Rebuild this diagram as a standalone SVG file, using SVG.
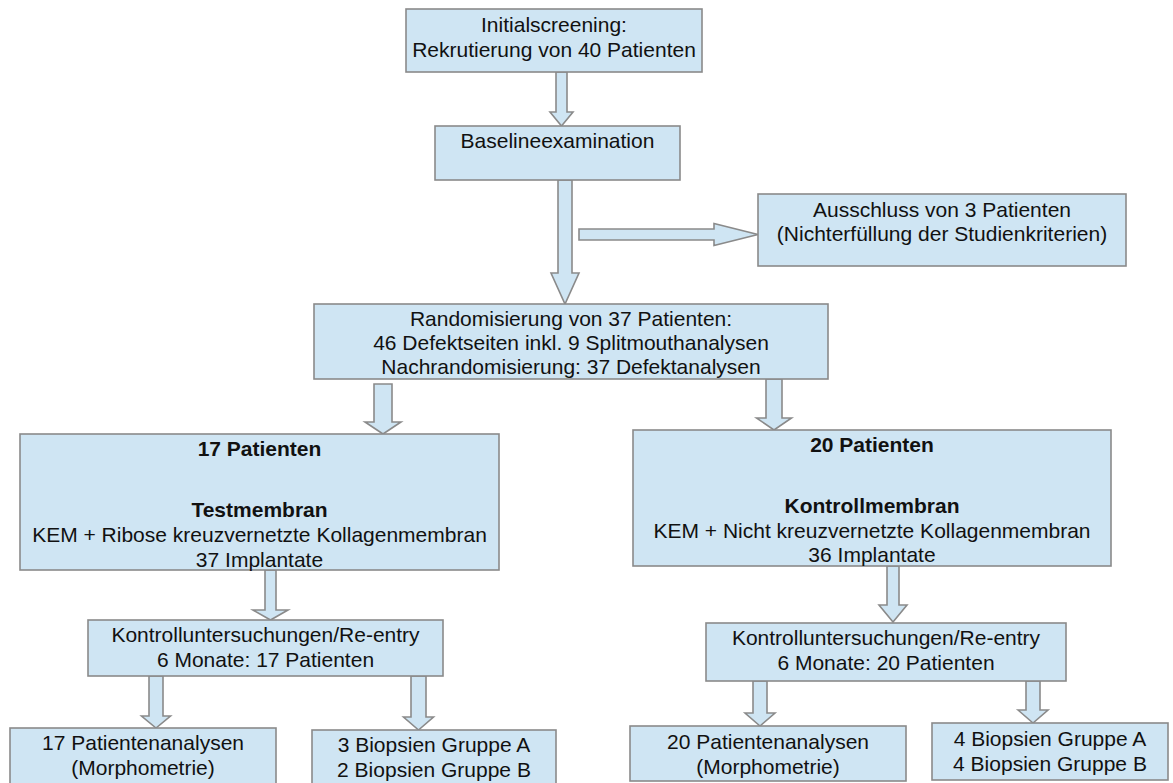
<svg xmlns="http://www.w3.org/2000/svg" width="1173" height="783" viewBox="0 0 1173 783">
<style>
.box{fill:#cfe5f3;stroke:#8a8a8a;stroke-width:1.6}
.arr{fill:#cfe5f3;stroke:#8a8a8a;stroke-width:1.6;stroke-linejoin:miter}
text{font-family:"Liberation Sans",Arial,sans-serif;font-size:21px;fill:#111;text-anchor:middle}
.b{font-weight:bold}
</style>
<rect width="1173" height="783" fill="#ffffff"/>
<g id="connectors">
<polygon class="arr" points="556,72 567,72 567,112 573,112 561.5,126 550,112 556,112"/>
<polygon class="arr" points="558,180 572,180 572,273 579,273 565,304 551,273 558,273"/>
<polygon class="arr" points="579,229 714,229 714,223.5 758,234.5 714,245.5 714,240 579,240"/>
<polygon class="arr" points="374,384 392,384 392,422 401,422 383,434 365,422 374,422"/>
<polygon class="arr" points="766,379 782,379 782,418 791.5,418 774,430 756.5,418 766,418"/>
<polygon class="arr" points="265,570 276,570 276,610 288,610 270.5,620 253,610 265,610"/>
<polygon class="arr" points="887,566 899,566 899,605 907,605 893,622 879,605 887,605"/>
<polygon class="arr" points="149,676 163,676 163,716 170.5,716 156,728 141.5,716 149,716"/>
<polygon class="arr" points="411,676 426,676 426,717 433.5,717 418.5,730 403.5,717 411,717"/>
<polygon class="arr" points="753,681 767,681 767,713 775,713 760,726 745,713 753,713"/>
<polygon class="arr" points="1026,681 1040,681 1040,710 1048,710 1033,723 1018,710 1026,710"/>
</g>
<g id="n1"><rect class="box" x="406" y="9" width="296" height="63"/>
<text x="554" y="32">Initialscreening:</text><text x="554" y="57">Rekrutierung von 40 Patienten</text></g>
<g id="n2"><rect class="box" x="435" y="126" width="245" height="54"/>
<text x="557.5" y="148">Baselineexamination</text></g>
<g id="n3"><rect class="box" x="758" y="194" width="368" height="72"/>
<text x="942" y="217">Ausschluss von 3 Patienten</text><text x="942" y="241">(Nichterfüllung der Studienkriterien)</text></g>
<g id="n4"><rect class="box" x="314" y="304" width="514" height="75"/>
<text x="571" y="326">Randomisierung von 37 Patienten:</text>
<text x="571" y="350">46 Defektseiten inkl. 9 Splitmouthanalysen</text>
<text x="571" y="374">Nachrandomisierung: 37 Defektanalysen</text></g>
<g id="n5"><rect class="box" x="20" y="434" width="479" height="136"/>
<text class="b" x="259.5" y="456">17 Patienten</text>
<text class="b" x="259.5" y="517">Testmembran</text>
<text x="259.5" y="542">KEM + Ribose kreuzvernetzte Kollagenmembran</text>
<text x="259.5" y="567">37 Implantate</text></g>
<g id="n6"><rect class="box" x="633" y="430" width="478" height="136"/>
<text class="b" x="872" y="452">20 Patienten</text>
<text class="b" x="872" y="513">Kontrollmembran</text>
<text x="872" y="538">KEM + Nicht kreuzvernetzte Kollagenmembran</text>
<text x="872" y="562">36 Implantate</text></g>
<g id="n7"><rect class="box" x="88" y="620" width="355" height="56"/>
<text x="265.5" y="642">Kontrolluntersuchungen/Re-entry</text><text x="265.5" y="667">6 Monate: 17 Patienten</text></g>
<g id="n8"><rect class="box" x="706" y="623" width="360" height="58"/>
<text x="886" y="645">Kontrolluntersuchungen/Re-entry</text><text x="886" y="670">6 Monate: 20 Patienten</text></g>
<g id="n9"><rect class="box" x="10" y="728" width="266" height="70"/>
<text x="143" y="750">17 Patientenanalysen</text><text x="143" y="775">(Morphometrie)</text></g>
<g id="n10"><rect class="box" x="312" y="730" width="244" height="70"/>
<text x="434" y="752">3 Biopsien Gruppe A</text><text x="434" y="777">2 Biopsien Gruppe B</text></g>
<g id="n11"><rect class="box" x="630" y="726" width="276" height="55"/>
<text x="768" y="749">20 Patientenanalysen</text><text x="768" y="774">(Morphometrie)</text></g>
<g id="n12"><rect class="box" x="932" y="723" width="236" height="57"/>
<text x="1050" y="746">4 Biopsien Gruppe A</text><text x="1050" y="771">4 Biopsien Gruppe B</text></g>
</svg>
